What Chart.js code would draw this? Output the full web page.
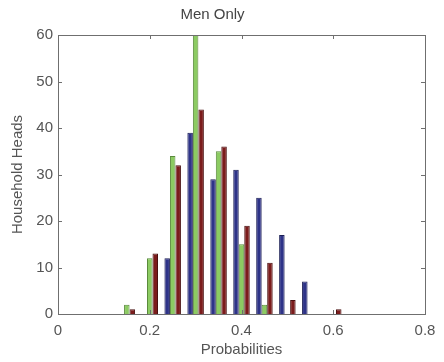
<!DOCTYPE html>
<html>
<head>
<meta charset="utf-8">
<script src="https://cdn.jsdelivr.net/npm/chart.js@4"></script>
<style>
  body { margin: 0; background: #fff; }
  #wrap { width: 444px; height: 362px; }
</style>
</head>
<body>
<div id="wrap"><canvas id="canvas1" width="444" height="362"></canvas></div>
<script>
// bin centres (probabilities) and household-head counts per series
var bins = [0.15, 0.20, 0.25, 0.30, 0.35, 0.40, 0.45, 0.50, 0.55, 0.60];
var blueCounts   = [0, 0, 12, 39, 29, 31, 25, 17, 7, 0];
var greenCounts  = [2, 12, 34, 60, 35, 15, 2, 0, 0, 0];
var maroonCounts = [1, 13, 32, 44, 36, 19, 11, 3, 0, 1];
var xTicks = [0, 0.2, 0.4, 0.6, 0.8];
var yTicks = [0, 10, 20, 30, 40, 50, 60];

function pontos(valores) {
    return bins.map(function (b, i) { return { x: b, y: valores[i] }; });
}

var fonte = "'Liberation Sans', Arial, sans-serif";

// box + inward tick marks, matlab style
var caixa = {
    id: 'caixa',
    afterDraw: function (chart) {
        var ctx = chart.ctx, a = chart.chartArea;
        var sx = chart.scales.x, sy = chart.scales.y;
        ctx.save();
        ctx.strokeStyle = '#6f6f6f';
        ctx.lineWidth = 1;
        ctx.strokeRect(Math.round(a.left) + 0.5, Math.round(a.top) + 0.5,
            Math.round(a.right - a.left), Math.round(a.bottom - a.top));
        ctx.beginPath();
        sx.ticks.forEach(function (t) {
            var px = Math.round(sx.getPixelForValue(t.value)) + 0.5;
            ctx.moveTo(px, a.bottom); ctx.lineTo(px, a.bottom - 4);
            ctx.moveTo(px, a.top); ctx.lineTo(px, a.top + 4);
        });
        sy.ticks.forEach(function (t) {
            var py = Math.round(sy.getPixelForValue(t.value)) + 0.5;
            ctx.moveTo(a.left, py); ctx.lineTo(a.left + 4, py);
            ctx.moveTo(a.right, py); ctx.lineTo(a.right - 4, py);
        });
        ctx.stroke();
        ctx.restore();
    }
};

var ctx1 = document.getElementById('canvas1').getContext('2d');
var grafico = new Chart(ctx1, {
    type: 'bar',
    data: {
        datasets: [{
            label: 'Blue',
            data: pontos(blueCounts),
            backgroundColor: '#2e3388',
            borderColor: '#1c1f55',
            borderWidth: 1
        }, {
            label: 'Green',
            data: pontos(greenCounts),
            backgroundColor: '#8ccb62',
            borderColor: '#5a8a3c',
            borderWidth: 1
        }, {
            label: 'Maroon',
            data: pontos(maroonCounts),
            backgroundColor: '#7b1c1c',
            borderColor: '#4a1010',
            borderWidth: 1
        }]
    },
    plugins: [caixa],
    options: {
        responsive: false,
        animation: false,
        categoryPercentage: 0.72,
        barPercentage: 1,
        layout: { padding: { left: 0, right: 19, top: 0, bottom: 0 } },
        plugins: {
            legend: { display: false },
            tooltip: { enabled: false },
            title: {
                display: true,
                text: 'Men Only',
                color: '#444',
                font: { family: fonte, size: 15, weight: 'normal' },
                padding: { top: 6, bottom: 11 }
            }
        },
        scales: {
            x: {
                type: 'linear',
                offset: false,
                min: 0,
                max: 0.8,
                afterBuildTicks: function (s) { s.ticks = xTicks.map(function (v) { return { value: v }; }); },
                afterFit: function (s) { s.height = 48; },
                grid: { display: false, drawTicks: false },
                border: { display: false },
                ticks: {
                    color: '#555',
                    padding: 8,
                    font: { family: fonte, size: 15 },
                    callback: function (v) { return v === 0 ? '0' : String(v); }
                },
                title: {
                    display: true,
                    text: 'Probabilities',
                    color: '#555',
                    font: { family: fonte, size: 15 },
                    padding: { top: 0, bottom: 3 }
                }
            },
            y: {
                min: 0,
                max: 60,
                afterBuildTicks: function (s) { s.ticks = yTicks.map(function (v) { return { value: v }; }); },
                afterFit: function (s) { s.width = 58; },
                grid: { display: false, drawTicks: false },
                border: { display: false },
                ticks: {
                    color: '#555',
                    padding: 5,
                    font: { family: fonte, size: 15 }
                },
                title: {
                    display: true,
                    text: 'Household Heads',
                    color: '#555',
                    font: { family: fonte, size: 15 },
                    padding: { top: 9, bottom: 0 }
                }
            }
        }
    }
});
</script>
</body>
</html>
